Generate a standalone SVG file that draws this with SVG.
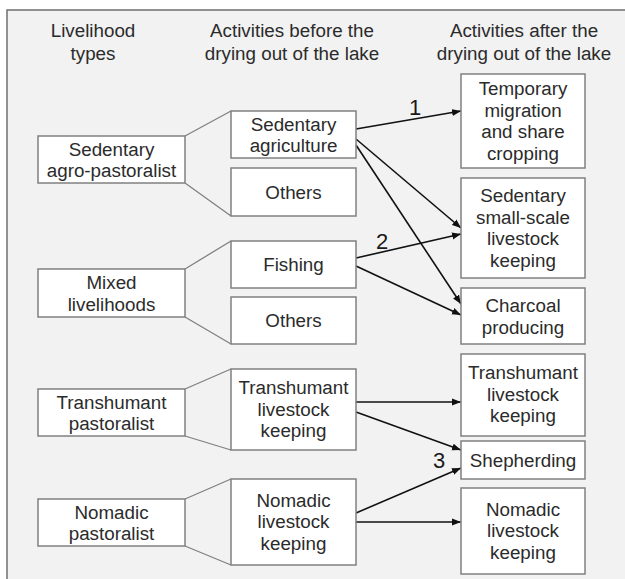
<svg xmlns="http://www.w3.org/2000/svg" width="625" height="579" viewBox="0 0 625 579">
<style>
text{font-family:"Liberation Sans",Arial,sans-serif;font-size:18.8px;fill:#2b2b2b;text-anchor:middle}
.box{fill:#fff;stroke:#808080;stroke-width:1.5}
.tz{stroke:#808080;stroke-width:1.3;fill:none}
.arr{stroke:#111;stroke-width:1.6;fill:none;marker-end:url(#ah)}
.num{font-size:22px;fill:#1a1a1a}
</style>
<defs>
<marker id="ah" markerUnits="userSpaceOnUse" markerWidth="10" markerHeight="8" refX="9" refY="4" orient="auto">
<path d="M0,0.5 L9,4 L0,7.5 Z" fill="#111"/>
</marker>
</defs>
<rect x="0" y="0" width="625" height="579" fill="#fff"/>
<rect x="7" y="10" width="620" height="572" fill="#f2f2f2"/>
<path d="M7,579 L7,10 L625,10" fill="none" stroke="#6f6f6f" stroke-width="1.5"/>
<g id="headers">
<text x="93" y="37">Livelihood</text><text x="93" y="60">types</text>
<text x="292" y="37">Activities before the</text><text x="292" y="60">drying out of the lake</text>
<text x="524" y="37">Activities after the</text><text x="524" y="60">drying out of the lake</text>
</g>
<g id="connectors">
<path class="tz" d="M185,136 L231,111 M185,183 L231,216"/>
<path class="tz" d="M185,269 L231,241 M185,317 L231,344"/>
<path class="tz" d="M185,389 L231,369 M185,436 L231,450"/>
<path class="tz" d="M185,499 L231,479 M185,546 L231,565"/>
<line class="arr" x1="356" y1="129" x2="461" y2="111"/>
<line class="arr" x1="356" y1="139" x2="461" y2="228"/>
<line class="arr" x1="356" y1="145" x2="461" y2="304"/>
<line class="arr" x1="356" y1="258" x2="461" y2="234"/>
<line class="arr" x1="356" y1="266" x2="461" y2="315"/>
<line class="arr" x1="356" y1="402" x2="461" y2="402"/>
<line class="arr" x1="356" y1="412" x2="461" y2="450"/>
<line class="arr" x1="356" y1="513" x2="461" y2="468"/>
<line class="arr" x1="356" y1="522" x2="461" y2="522"/>
<text class="num" x="415" y="115">1</text>
<text class="num" x="382" y="249">2</text>
<text class="num" x="439" y="468">3</text>
</g>
<g id="n-sedagro"><rect class="box" x="38" y="136" width="147" height="47"/><text x="111.5" y="155.5">Sedentary</text><text x="111.5" y="177">agro-pastoralist</text></g>
<g id="n-mixed"><rect class="box" x="38" y="269" width="147" height="48"/><text x="111.5" y="289">Mixed</text><text x="111.5" y="310.5">livelihoods</text></g>
<g id="n-transpast"><rect class="box" x="38" y="389" width="147" height="47"/><text x="111.5" y="408.5">Transhumant</text><text x="111.5" y="430">pastoralist</text></g>
<g id="n-nomadpast"><rect class="box" x="38" y="499" width="147" height="47"/><text x="111.5" y="518.5">Nomadic</text><text x="111.5" y="540">pastoralist</text></g>
<g id="n-sedagri"><rect class="box" x="231" y="111" width="125" height="47"/><text x="293.5" y="130.5">Sedentary</text><text x="293.5" y="152">agriculture</text></g>
<g id="n-others1"><rect class="box" x="231" y="168" width="125" height="48"/><text x="293.5" y="198.5">Others</text></g>
<g id="n-fishing"><rect class="box" x="231" y="241" width="125" height="47"/><text x="293.5" y="271">Fishing</text></g>
<g id="n-others2"><rect class="box" x="231" y="297" width="125" height="47"/><text x="293.5" y="327">Others</text></g>
<g id="n-translive"><rect class="box" x="231" y="369" width="125" height="81"/><text x="293.5" y="394">Transhumant</text><text x="293.5" y="415.5">livestock</text><text x="293.5" y="437">keeping</text></g>
<g id="n-nomadlive"><rect class="box" x="231" y="479" width="125" height="86"/><text x="293.5" y="506.5">Nomadic</text><text x="293.5" y="528">livestock</text><text x="293.5" y="549.5">keeping</text></g>
<g id="n-temp"><rect class="box" x="461" y="74" width="124" height="94"/><text x="523" y="95">Temporary</text><text x="523" y="116.5">migration</text><text x="523" y="138">and share</text><text x="523" y="159.5">cropping</text></g>
<g id="n-smallscale"><rect class="box" x="461" y="178" width="124" height="100"/><text x="523" y="202">Sedentary</text><text x="523" y="223.5">small-scale</text><text x="523" y="245">livestock</text><text x="523" y="266.5">keeping</text></g>
<g id="n-charcoal"><rect class="box" x="461" y="288" width="124" height="56"/><text x="523" y="312">Charcoal</text><text x="523" y="333.5">producing</text></g>
<g id="n-transafter"><rect class="box" x="461" y="354" width="124" height="82"/><text x="523" y="379">Transhumant</text><text x="523" y="400.5">livestock</text><text x="523" y="422">keeping</text></g>
<g id="n-shep"><rect class="box" x="461" y="441" width="124" height="38"/><text x="523" y="466.5">Shepherding</text></g>
<g id="n-nomadafter"><rect class="box" x="461" y="488" width="124" height="86"/><text x="523" y="515.5">Nomadic</text><text x="523" y="537">livestock</text><text x="523" y="558.5">keeping</text></g>
</svg>
